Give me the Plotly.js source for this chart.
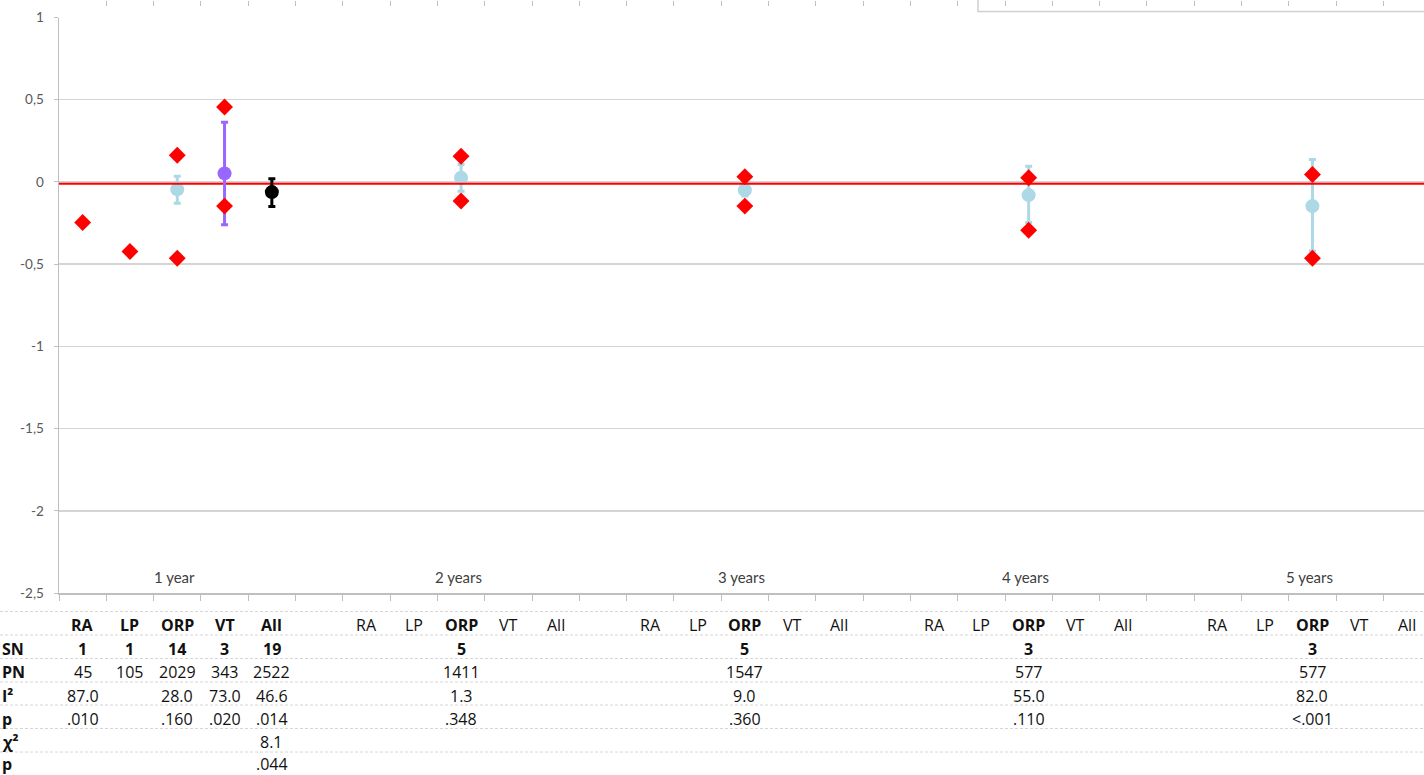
<!DOCTYPE html>
<html>
<head>
<meta charset="utf-8">
<script src="https://cdn.plot.ly/plotly-3.0.1.min.js"></script>
<style>
html,body{margin:0;padding:0;background:#fff;overflow:hidden;}
#chart{width:1424px;height:775px;}
</style>
</head>
<body>
<div id="chart"></div>
<script>
// ---------- DATA ----------
const periods = ["1 year", "2 years", "3 years", "4 years", "5 years"];
const subgroups = ["RA", "LP", "ORP", "VT", "All"];

// ORP (light blue) pooled estimate per period with CI
const orpMean  = [-0.045, 0.025, -0.050, -0.080, -0.147];
const orpUpper = [ 0.035, 0.106, -0.015,  0.096,  0.136];
const orpLower = [-0.130, -0.056, -0.085, -0.247, -0.420];

// VT (purple), 1 year only
const vtMean = [0.052];
const vtUpper = [0.363];
const vtLower = [-0.260];

// All (black), 1 year only
const allMean = [-0.062];
const allUpper = [0.020];
const allLower = [-0.150];

// Red diamonds (per period x subgroup): high / low values, null = none
const redHigh = [
  [-0.247, -0.423, 0.162, 0.456, null],
  [null, null, 0.156, null, null],
  [null, null, 0.032, null, null],
  [null, null, 0.025, null, null],
  [null, null, 0.045, null, null]
];
const redLow = [
  [null, null, -0.464, -0.147, null],
  [null, null, -0.116, null, null],
  [null, null, -0.147, null, null],
  [null, null, -0.294, null, null],
  [null, null, -0.464, null, null]
];

// Reference line
const refLine = -0.011;

// Y tick labels
const yTickVals = [-2.5, -2, -1.5, -1, -0.5, 0, 0.5, 1];
const yTickText = ["-2,5", "-2", "-1,5", "-1", "-0,5", "0", "0,5", "1"];

// Table
const rowLabels = ["SN", "PN", "I²", "p", "χ²", "p"];
const sn1   = ["1", "1", "14", "3", "19"];
const pn1   = ["45", "105", "2029", "343", "2522"];
const i2_1  = ["87.0", "", "28.0", "73.0", "46.6"];
const p1    = [".010", "", ".160", ".020", ".014"];
const chi1  = ["", "", "", "", "8.1"];
const pchi1 = ["", "", "", "", ".044"];
const snORP = ["5", "5", "3", "3"];
const pnORP = ["1411", "1547", "577", "577"];
const i2ORP = ["1.3", "9.0", "55.0", "82.0"];
const pORP  = [".348", ".360", ".110", "<.001"];

// ---------- LAYOUT HELPERS ----------
const W = 1424, H = 775, L = 59;
const plotTopPx = 17.5, plotBotPx = 593;
const catPx = 47.3;
const xMax = -0.5 + (W - L) / catPx;
const py = p => (H - p) / H;           // pixel y -> paper y
const pxp = p => (p - L) / (W - L);    // pixel x -> paper x
const xIdx = (p, s) => p * 6 + s;

const lightBlue = "#ADD8E6";
const purple = "#9966FF";

// ---------- TRACES ----------
const traces = [];

// empty trace to bind the top tick axis
traces.push({type: "scatter", mode: "markers", x: [], y: [], xaxis: "x2", yaxis: "y",
  hoverinfo: "skip", showlegend: false});

traces.push({
  type: "scatter", mode: "markers",
  x: periods.map((_, p) => xIdx(p, 2)), y: orpMean,
  marker: {color: lightBlue, size: 14, symbol: "circle"},
  error_y: {type: "data", symmetric: false,
    array: orpUpper.map((u, i) => u - orpMean[i]),
    arrayminus: orpLower.map((l, i) => orpMean[i] - l),
    color: lightBlue, thickness: 3, width: 3.5},
  hoverinfo: "y", showlegend: false
});

traces.push({
  type: "scatter", mode: "lines",
  x: [-0.5, 28.5], y: [refLine, refLine],
  line: {color: "#FF0000", width: 2.2},
  hoverinfo: "skip", showlegend: false
});

traces.push({
  type: "scatter", mode: "markers",
  x: [xIdx(0, 3)], y: vtMean,
  marker: {color: purple, size: 14, symbol: "circle"},
  error_y: {type: "data", symmetric: false,
    array: vtUpper.map((u, i) => u - vtMean[i]),
    arrayminus: vtLower.map((l, i) => vtMean[i] - l),
    color: purple, thickness: 3, width: 3.5},
  hoverinfo: "y", showlegend: false
});

traces.push({
  type: "scatter", mode: "markers",
  x: [xIdx(0, 4)], y: allMean,
  marker: {color: "#000000", size: 14, symbol: "circle"},
  error_y: {type: "data", symmetric: false,
    array: allUpper.map((u, i) => u - allMean[i]),
    arrayminus: allLower.map((l, i) => allMean[i] - l),
    color: "#000000", thickness: 3, width: 3.5},
  hoverinfo: "y", showlegend: false
});

const dx = [], dy = [];
periods.forEach((_, p) => subgroups.forEach((_, s) => {
  if (redHigh[p][s] !== null) { dx.push(xIdx(p, s)); dy.push(redHigh[p][s]); }
  if (redLow[p][s] !== null) { dx.push(xIdx(p, s)); dy.push(redLow[p][s]); }
}));
traces.push({
  type: "scatter", mode: "markers", x: dx, y: dy,
  marker: {color: "#FF0000", size: 13, symbol: "diamond"},
  hoverinfo: "y", showlegend: false
});

// ---------- ANNOTATIONS ----------
const ann = [];
periods.forEach((t, p) => ann.push({
  x: xIdx(p, 2), xshift: -3, y: -2.4, xref: "x", yref: "y", text: t, showarrow: false,
  font: {family: "Lato, 'Open Sans', sans-serif", size: 15, color: "#404040"}
}));

const tFont = "'Open Sans', 'DejaVu Sans', sans-serif";
const tSize = 16;
const rowY = [625, 648.5, 672, 695.5, 719, 742, 764];
function cell(x, rowPx, text, bold) {
  if (!text) return;
  ann.push({x: x, y: py(rowPx), xref: "x", yref: "paper", text: bold ? "<b>" + text + "</b>" : text,
    showarrow: false, xanchor: "center", yanchor: "middle",
    font: {family: tFont, size: tSize, color: "#111"}});
}
// Headers
periods.forEach((_, p) => subgroups.forEach((s, k) => {
  cell(xIdx(p, k), rowY[0], s, p === 0 || s === "ORP");
}));
// Row labels
rowLabels.forEach((r, i) => ann.push({
  x: pxp(0), y: py(rowY[i + 1]), xref: "paper", yref: "paper",
  text: "<b>" + r + "</b>", showarrow: false, xanchor: "left", yanchor: "middle",
  font: {family: tFont, size: tSize, color: "#111"}
}));
// Group 1 values
subgroups.forEach((_, k) => {
  cell(xIdx(0, k), rowY[1], sn1[k], true);
  cell(xIdx(0, k), rowY[2], pn1[k], false);
  cell(xIdx(0, k), rowY[3], i2_1[k], false);
  cell(xIdx(0, k), rowY[4], p1[k], false);
  cell(xIdx(0, k), rowY[5], chi1[k], false);
  cell(xIdx(0, k), rowY[6], pchi1[k], false);
});
// Groups 2-5 ORP values
snORP.forEach((_, i) => {
  const p = i + 1;
  cell(xIdx(p, 2), rowY[1], snORP[i], true);
  cell(xIdx(p, 2), rowY[2], pnORP[i], false);
  cell(xIdx(p, 2), rowY[3], i2ORP[i], false);
  cell(xIdx(p, 2), rowY[4], pORP[i], false);
});

// ---------- SHAPES ----------
const shapes = [];
[611.5, 635, 658.5, 682, 705, 728.5, 752].forEach(yp => shapes.push({
  type: "line", xref: "paper", yref: "paper",
  x0: pxp(0), x1: 1.0, y0: py(yp), y1: py(yp),
  line: {color: "#d6d6d6", width: 1, dash: "3px,2px"}
}));
// cut-off legend box at top right
shapes.push({
  type: "rect", xref: "paper", yref: "paper",
  x0: pxp(978), x1: 1.02, y0: py(11.5), y1: 1.05,
  line: {color: "#d0d0d0", width: 1.5}, fillcolor: "rgba(0,0,0,0)"
});

const layout = {
  width: W, height: H,
  margin: {l: L, r: 0, t: 0, b: 0, pad: 0},
  paper_bgcolor: "#fff", plot_bgcolor: "#fff",
  separators: ", ",
  showlegend: false,
  xaxis: {
    range: [-0.5, xMax], anchor: "y",
    tickmode: "array", tickvals: Array.from({length: 30}, (_, i) => i - 0.5),
    showticklabels: false, ticks: "outside", ticklen: 6, tickcolor: "#bfbfbf", tickwidth: 1,
    showgrid: false, zeroline: false, showline: true, linecolor: "#bfbfbf", linewidth: 1.5,
    fixedrange: true
  },
  xaxis2: {
    range: [-0.5, xMax], overlaying: "x", anchor: "free", position: 1, side: "top",
    tickmode: "array", tickvals: Array.from({length: 30}, (_, i) => i - 0.5),
    showticklabels: false, ticks: "inside", ticklen: 5, tickcolor: "#bfbfbf", tickwidth: 1,
    showgrid: false, zeroline: false, showline: false
  },
  yaxis: {
    domain: [py(plotBotPx), py(plotTopPx)],
    range: [-2.5, 1],
    tickmode: "array", tickvals: yTickVals, ticktext: yTickText,
    ticks: "outside", ticklen: 4, tickcolor: "#bfbfbf",
    ticklabelstandoff: 7,
    showgrid: true, gridcolor: "#d4d4d4", gridwidth: 1.5,
    zeroline: false, showline: true, linecolor: "#bfbfbf", linewidth: 1.5,
    tickfont: {family: "Lato, 'Open Sans', sans-serif", size: 13.5, color: "#595959"},
    fixedrange: true
  },
  annotations: ann,
  shapes: shapes
};

Plotly.newPlot("chart", traces, layout, {displayModeBar: false, staticPlot: true});
</script>
</body>
</html>
